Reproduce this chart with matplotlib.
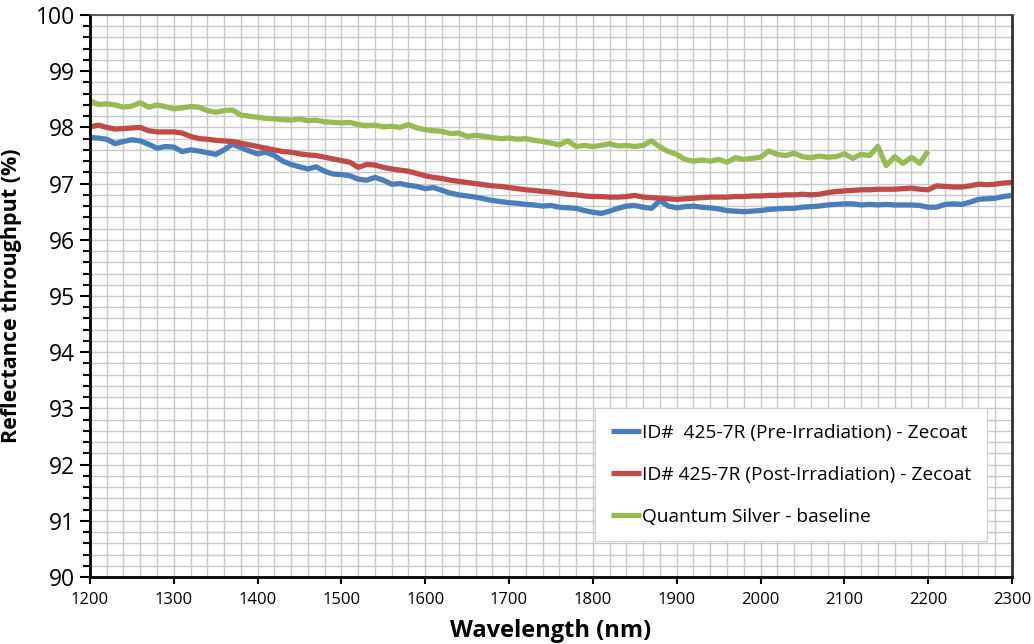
import numpy as np
import matplotlib
matplotlib.use('Agg')
import matplotlib.pyplot as plt
from matplotlib.ticker import MultipleLocator

plt.rcParams['font.family'] = ['Open Sans', 'DejaVu Sans']

# wavelength grid (nm) for the two Zecoat scans
wl = np.arange(1200, 2301, 10)

pre_irr = [97.82, 97.81, 97.79, 97.71, 97.75, 97.78, 97.76, 97.70, 97.63, 97.66,
           97.65, 97.57, 97.60, 97.58, 97.55, 97.52, 97.60, 97.70, 97.64, 97.58,
           97.53, 97.56, 97.50, 97.40, 97.34, 97.30, 97.26, 97.30, 97.22, 97.17,
           97.16, 97.14, 97.08, 97.06, 97.11, 97.06, 96.99, 97.00, 96.97, 96.95,
           96.91, 96.93, 96.88, 96.83, 96.80, 96.78, 96.76, 96.73, 96.70, 96.68,
           96.66, 96.65, 96.63, 96.62, 96.60, 96.61, 96.58, 96.57, 96.56, 96.52,
           96.49, 96.47, 96.51, 96.56, 96.60, 96.61, 96.58, 96.56, 96.70, 96.60,
           96.57, 96.59, 96.60, 96.58, 96.57, 96.55, 96.52, 96.51, 96.50, 96.51,
           96.52, 96.54, 96.55, 96.56, 96.56, 96.58, 96.59, 96.60, 96.62, 96.63,
           96.64, 96.64, 96.62, 96.63, 96.62, 96.63, 96.62, 96.62, 96.62, 96.61,
           96.58, 96.58, 96.63, 96.64, 96.63, 96.67, 96.72, 96.73, 96.74, 96.77,
           96.79]

post_irr = [98.01, 98.04, 98.00, 97.97, 97.98, 97.99, 98.00, 97.94, 97.92, 97.92,
            97.92, 97.90, 97.84, 97.80, 97.79, 97.77, 97.76, 97.75, 97.72, 97.69,
            97.66, 97.63, 97.60, 97.57, 97.56, 97.53, 97.51, 97.50, 97.47, 97.44,
            97.41, 97.38, 97.29, 97.34, 97.33, 97.29, 97.26, 97.24, 97.22, 97.18,
            97.14, 97.11, 97.09, 97.06, 97.04, 97.02, 97.00, 96.98, 96.96, 96.95,
            96.93, 96.91, 96.89, 96.88, 96.86, 96.85, 96.83, 96.81, 96.80, 96.78,
            96.77, 96.77, 96.76, 96.76, 96.77, 96.79, 96.76, 96.75, 96.74, 96.73,
            96.72, 96.73, 96.74, 96.75, 96.76, 96.76, 96.76, 96.77, 96.77, 96.78,
            96.78, 96.79, 96.79, 96.80, 96.80, 96.81, 96.80, 96.81, 96.84, 96.86,
            96.87, 96.88, 96.89, 96.89, 96.90, 96.90, 96.90, 96.91, 96.92, 96.90,
            96.89, 96.96, 96.95, 96.94, 96.94, 96.96, 96.99, 96.98, 96.99, 97.01,
            97.02]

# silver baseline only runs to 2200 nm
wl_silver = np.arange(1200, 2201, 10)
silver = [98.47, 98.41, 98.42, 98.40, 98.36, 98.38, 98.44, 98.36, 98.40, 98.37,
          98.33, 98.35, 98.37, 98.36, 98.30, 98.27, 98.30, 98.31, 98.22, 98.20,
          98.18, 98.16, 98.15, 98.14, 98.13, 98.15, 98.12, 98.13, 98.10, 98.09,
          98.08, 98.09, 98.05, 98.03, 98.04, 98.01, 98.02, 98.00, 98.05, 97.99,
          97.96, 97.94, 97.93, 97.89, 97.90, 97.84, 97.86, 97.84, 97.82, 97.80,
          97.81, 97.79, 97.80, 97.77, 97.75, 97.72, 97.69, 97.76, 97.66, 97.68,
          97.66, 97.68, 97.71, 97.67, 97.68, 97.66, 97.68, 97.76, 97.65, 97.57,
          97.52, 97.43, 97.40, 97.42, 97.40, 97.43, 97.38, 97.46, 97.43, 97.45,
          97.47, 97.58, 97.52, 97.50, 97.54, 97.48, 97.46, 97.49, 97.47, 97.48,
          97.53, 97.45, 97.52, 97.50, 97.66, 97.32, 97.48, 97.36, 97.47, 97.36,
          97.58]

labels = ['ID#  425-7R (Pre-Irradiation) - Zecoat',
          'ID# 425-7R (Post-Irradiation) - Zecoat',
          'Quantum Silver - baseline']
colors = ['#4a7ebb', '#be4b48', '#98b954']

fig = plt.figure(figsize=(10.34, 6.44), dpi=100)
ax = fig.add_axes([0.087, 0.104, 0.8917, 0.8727])

ax.plot(wl, pre_irr, color=colors[0], lw=3.8, label=labels[0], solid_capstyle='butt')
ax.plot(wl, post_irr, color=colors[1], lw=3.8, label=labels[1], solid_capstyle='butt')
ax.plot(wl_silver, silver, color=colors[2], lw=3.8, label=labels[2], solid_capstyle='butt')

ax.set_xlim(1200, 2300)
ax.set_ylim(90, 100)
ax.xaxis.set_major_locator(MultipleLocator(100))
ax.xaxis.set_minor_locator(MultipleLocator(20))
ax.yaxis.set_major_locator(MultipleLocator(1))
ax.yaxis.set_minor_locator(MultipleLocator(0.2))
ax.grid(True, which='both', color='#c8c8c8', lw=1.0)
ax.set_axisbelow(True)

ax.tick_params(axis='x', which='major', length=5, width=1.5, labelsize=12, pad=6)
ax.tick_params(axis='x', which='minor', length=0)
ax.tick_params(axis='y', which='major', length=7, width=1.5, labelsize=16.5, pad=4)
ax.tick_params(axis='y', which='minor', length=5, width=1.5)

for side in ['left', 'bottom']:
    ax.spines[side].set_linewidth(2)
    ax.spines[side].set_color('black')
ax.spines['right'].set_linewidth(2)
ax.spines['right'].set_color('#333333')
ax.spines['top'].set_linewidth(1.2)
ax.spines['top'].set_color('#444444')

ax.set_xlabel('Wavelength (nm)', fontsize=17, fontweight='bold', labelpad=8)
ax.set_ylabel('Reflectance throughput (%)', fontsize=15.5, fontweight='bold', labelpad=10)

leg = ax.legend(loc='upper left', bbox_to_anchor=(0.548, 0.30), fontsize=13.8,
                frameon=True, fancybox=False, edgecolor='#d0d0d0', framealpha=1,
                handlelength=1.6, handletextpad=0.05, labelspacing=1.25,
                borderpad=0.8, borderaxespad=0)
leg.get_frame().set_linewidth(0.8)
for line in leg.get_lines():
    line.set_linewidth(3.8)

fig.savefig('out.png', dpi=100)
